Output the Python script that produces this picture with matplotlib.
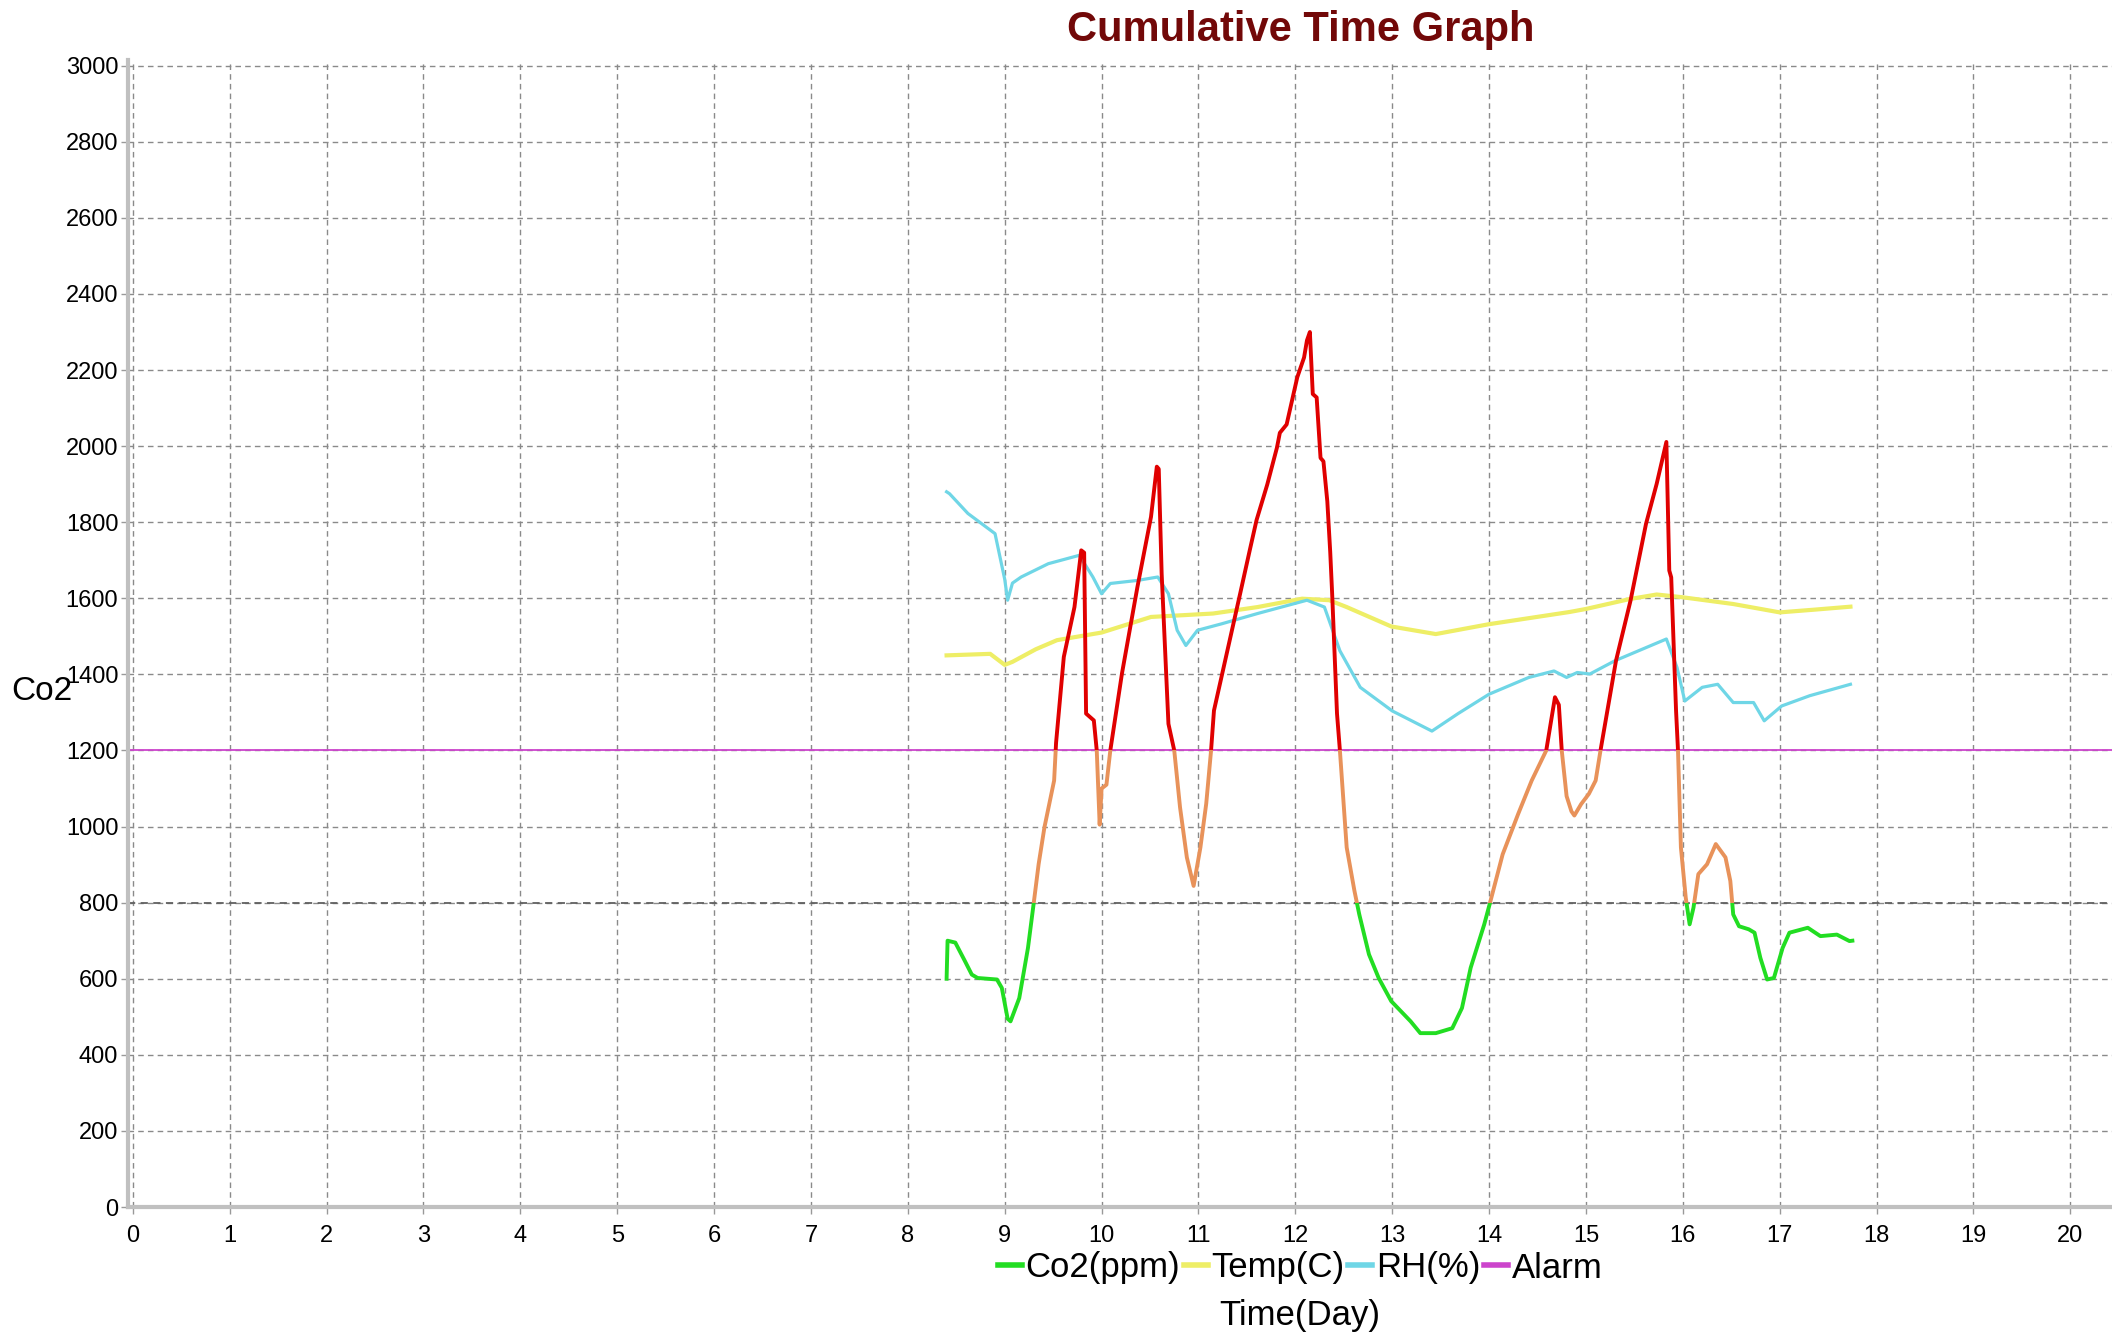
import matplotlib
matplotlib.use('Agg')
import matplotlib.pyplot as plt
from matplotlib.patches import Rectangle
from matplotlib.lines import Line2D

# data (values on the Co2 axis)
co2_day = [8.40, 8.41, 8.49, 8.59, 8.66, 8.72, 8.92, 8.97, 9.03, 9.06, 9.15, 9.24, 9.30, 9.35, 9.41,
           9.51, 9.53, 9.61, 9.72, 9.79, 9.82, 9.84, 9.92, 9.95, 9.98, 10.00, 10.05, 10.09, 10.21, 10.37,
           10.51, 10.57, 10.59, 10.62, 10.69, 10.75, 10.81, 10.88, 10.95, 11.02, 11.08, 11.13, 11.16, 11.43,
           11.53, 11.60, 11.71, 11.81, 11.84, 11.91, 12.02, 12.09, 12.12, 12.15, 12.18, 12.22, 12.26, 12.29,
           12.33, 12.36, 12.38, 12.43, 12.46, 12.53, 12.61, 12.66, 12.76, 12.86, 12.99, 13.19, 13.29, 13.45,
           13.62, 13.72, 13.81, 13.95, 14.01, 14.14, 14.30, 14.44, 14.59, 14.68, 14.72, 14.75, 14.80, 14.85,
           14.88, 14.95, 15.03, 15.10, 15.15, 15.31, 15.46, 15.62, 15.73, 15.83, 15.86, 15.88, 15.93, 15.95,
           15.98, 16.03, 16.07, 16.11, 16.16, 16.25, 16.34, 16.44, 16.49, 16.52, 16.58, 16.68, 16.74, 16.80,
           16.87, 16.94, 17.03, 17.10, 17.29, 17.42, 17.59, 17.72, 17.75]
co2_ppm = [600, 700, 695, 646, 611, 602, 598, 576, 495, 488, 549, 681, 800, 901, 998,
           1121, 1220, 1446, 1577, 1726, 1720, 1297, 1279, 1200, 1005, 1100, 1110, 1200, 1402, 1630,
           1814, 1946, 1940, 1665, 1270, 1200, 1050, 919, 844, 945, 1060, 1200, 1305, 1612,
           1727, 1806, 1899, 1996, 2035, 2057, 2181, 2233, 2278, 2300, 2137, 2128, 1969, 1960,
           1855, 1722, 1612, 1297, 1200, 945, 831, 769, 664, 602, 541, 488, 457, 457,
           470, 523, 629, 743, 800, 927, 1033, 1121, 1200, 1340, 1320, 1200, 1080, 1040,
           1029, 1059, 1086, 1121, 1200, 1436, 1594, 1796, 1901, 2011, 1673, 1655, 1304, 1200,
           945, 813, 743, 787, 875, 901, 954, 919, 857, 769, 738, 730, 721, 655,
           598, 602, 681, 721, 734, 712, 716, 699, 700]

temp_day = [8.40, 8.85, 9.00, 9.08, 9.32, 9.54, 10.00, 10.51, 11.15, 11.61, 12.07, 12.35, 12.53,
            12.99, 13.45, 14.00, 14.83, 15.00, 15.45, 15.73, 15.99, 16.52, 17.00, 17.35, 17.73]
temp_val = [1450, 1454, 1425, 1433, 1466, 1490, 1510, 1551, 1560, 1577, 1599, 1595, 1577,
            1526, 1506, 1532, 1564, 1572, 1598, 1610, 1603, 1585, 1563, 1570, 1578]

rh_day = [8.40, 8.43, 8.62, 8.90, 9.00, 9.03, 9.08, 9.17, 9.45, 9.77, 9.91, 10.00, 10.09, 10.37,
          10.58, 10.69, 10.78, 10.87, 10.99, 11.24, 11.61, 11.93, 12.12, 12.30, 12.46, 12.67, 13.00,
          13.41, 13.68, 14.00, 14.41, 14.67, 14.80, 14.91, 15.04, 15.30, 15.83, 15.94, 16.02, 16.20,
          16.36, 16.52, 16.73, 16.84, 17.02, 17.31, 17.73]
rh_val = [1880, 1875, 1823, 1770, 1650, 1595, 1640, 1656, 1691, 1713, 1656, 1612, 1639, 1647,
          1656, 1612, 1516, 1476, 1516, 1533, 1560, 1582, 1595, 1577, 1462, 1366, 1304,
          1251, 1297, 1348, 1392, 1409, 1392, 1405, 1401, 1436, 1493, 1418, 1330, 1366,
          1374, 1326, 1326, 1278, 1317, 1344, 1374]

alarm = 1200
warn = 800
legend_labels = ['Co2(ppm)', 'Temp(C)', 'RH(%)', 'Alarm']

tick_font = ['Liberation Sans Narrow', 'Liberation Sans', 'DejaVu Sans']
plt.rcParams['font.family'] = ['Liberation Sans', 'DejaVu Sans']

fig = plt.figure(figsize=(21.12, 13.39), dpi=100)
ax = fig.add_axes([128 / 2112, 1 - 1207 / 1339, 1 - 128 / 2112, (1207 - 60) / 1339])
ax.set_xlim(-0.05, 20.43)
ax.set_ylim(0, 3015)

# grid
ax.set_xticks(range(0, 21))
ax.set_yticks(range(0, 3001, 200))
ax.grid(True, color='#8a8a8a', linestyle=(0, (4, 3)), linewidth=1.0)
ax.set_axisbelow(True)

ax.axhline(warn, color='#606060', linestyle=(0, (4, 3)), linewidth=1.3, zorder=1.5)
ax.axhline(alarm, color='#cc44cc', linestyle='-', linewidth=1.3, zorder=1.6)

# temp + RH
ax.plot(temp_day, temp_val, color='#eeee66', linewidth=3.0, zorder=2)
ax.plot(rh_day, rh_val, color='#6fd6e6', linewidth=2.3, zorder=2.1)

# Co2 coloured by level
bands = [(-1000, warn, '#22dd22'), (warn, alarm, '#e8925a'), (alarm, 10000, '#e00000')]
for lo, hi, c in bands:
    ln, = ax.plot(co2_day, co2_ppm, color=c, linewidth=2.8, zorder=3)
    clip = Rectangle((-5, lo), 40, hi - lo, transform=ax.transData)
    ln.set_clip_path(clip)

for s in ['top', 'right']:
    ax.spines[s].set_visible(False)
for s in ['left', 'bottom']:
    ax.spines[s].set_color('#c0c0c0')
    ax.spines[s].set_linewidth(3)

ax.tick_params(axis='y', length=5, width=1, color='#999999', pad=2, labelsize=17)
ax.tick_params(axis='x', length=5, width=1, color='#999999', pad=8, labelsize=17)
for lab in ax.get_xticklabels() + ax.get_yticklabels():
    lab.set_family(tick_font)

fig.text(1301 / 2112, 1 - 30 / 1339, 'Cumulative Time Graph', ha='center', va='center',
         fontsize=30, fontweight='bold', color='#720808')
fig.text(42 / 2112, 1 - 691 / 1339, 'Co2', ha='center', va='center', fontsize=24)
fig.text(1300 / 2112, 1 - 1316 / 1339, 'Time(Day)', ha='center', va='center', fontsize=25)

handles = [Line2D([], [], color='#22dd22', linewidth=4),
           Line2D([], [], color='#eeee66', linewidth=4),
           Line2D([], [], color='#6fd6e6', linewidth=4),
           Line2D([], [], color='#cc44cc', linewidth=4)]
ax.legend(handles, legend_labels, loc='center', bbox_to_anchor=(1300 / 2112, 1 - 1268 / 1339),
          bbox_transform=fig.transFigure, ncol=4, frameon=False, fontsize=25,
          handlelength=0.7, handletextpad=0.1, columnspacing=0.1, borderpad=0)

fig.savefig('out.png', dpi=100)
